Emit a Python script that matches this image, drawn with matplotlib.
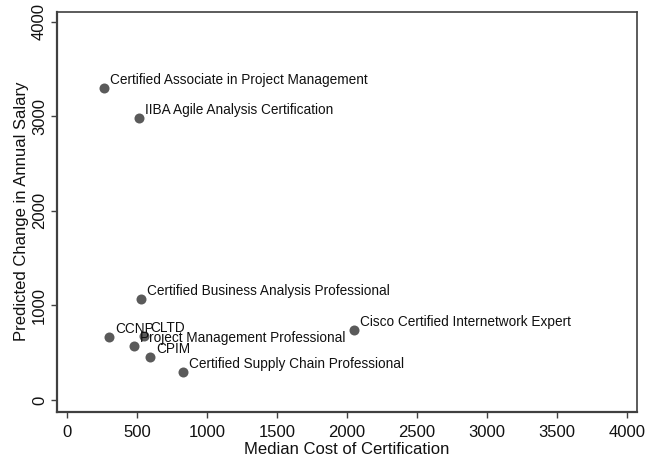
import matplotlib
matplotlib.use("Agg")
import matplotlib.pyplot as plt

plt.rcParams['font.family'] = ['Liberation Sans', 'DejaVu Sans']

names = ["Certified Associate in Project Management", "IIBA Agile Analysis Certification",
         "Certified Business Analysis Professional", "Cisco Certified Internetwork Expert",
         "CCNP", "CLTD", "Project Management Professional", "CPIM",
         "Certified Supply Chain Professional"]
cost = [264, 514, 529, 2050, 300, 550, 479, 593, 829]
salary = [3303, 2987, 1066, 739, 665, 675, 570, 454, 296]

xticks = [0, 500, 1000, 1500, 2000, 2500, 3000, 3500, 4000]
yticks = [0, 1000, 2000, 3000, 4000]

fig = plt.figure(figsize=(6.58, 4.59), dpi=100)
ax = fig.add_axes([0.0862, 0.1031, 0.8815, 0.8715])
dark = '#404040'
ax.scatter(cost, salary, s=52, color='#5a5a5a', zorder=3, linewidths=0)
for n, x, y in zip(names, cost, salary):
    ax.annotate(n, (x, y), xytext=(4.3, 5.8), textcoords='offset points',
                va='center', ha='left', fontsize=9.8, color='#111111')

ax.set_xlim(-73.6, 4069)
ax.set_ylim(-124, 4108)
ax.set_xticks(xticks)
ax.set_yticks(yticks)
ax.tick_params(axis='both', direction='out', length=4.5, width=1, color=dark,
               labelsize=12, labelcolor='#111111')
ax.tick_params(axis='x', pad=5)
ax.tick_params(axis='y', pad=2.5)
plt.setp(ax.get_yticklabels(), rotation=90, va='center')
for s in ['left', 'bottom']:
    ax.spines[s].set_linewidth(1.6)
    ax.spines[s].set_color(dark)
for s in ['top', 'right']:
    ax.spines[s].set_linewidth(1.2)
    ax.spines[s].set_color(dark)
ax.set_xlabel("Median Cost of Certification", fontsize=12, labelpad=1.5, color='#111111')
ax.set_ylabel("Predicted Change in Annual Salary", fontsize=12, labelpad=2.5, color='#111111')
fig.savefig("out.png", dpi=100)
